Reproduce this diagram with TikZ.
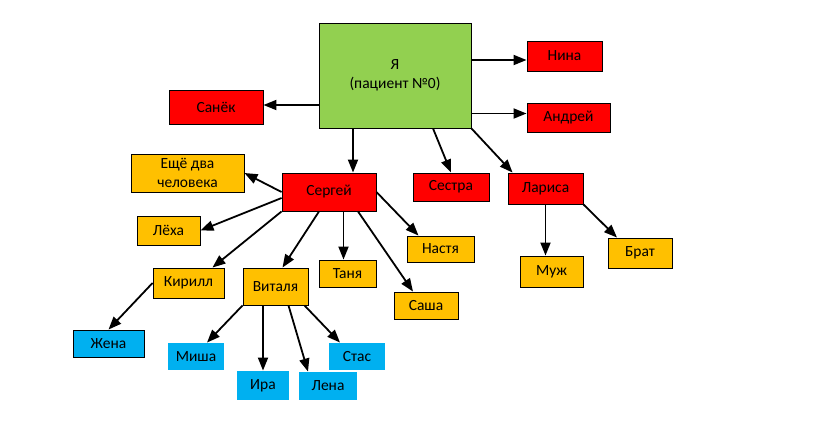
\documentclass[tikz,border=0pt]{standalone}
\usepackage{fontspec}
\setmainfont{Carlito}
\usepackage{tikz}
\usetikzlibrary{arrows.meta}
\definecolor{boxgreen}{HTML}{92D050}
\definecolor{boxred}{HTML}{FF0000}
\definecolor{boxorange}{HTML}{FFC000}
\definecolor{boxblue}{HTML}{00B0F0}
\begin{document}
\begin{tikzpicture}[x=1pt,y=-1pt,
             box/.style={draw=black, line width=0.9pt, inner sep=0pt, align=center,
               font=\fontsize{15.5}{19}\selectfont},
             me/.style={box, fill=boxgreen},
             kin/.style={box, fill=boxred},
             child/.style={box, fill=boxorange},
             grand/.style={box, fill=boxblue},
             arr/.style={-{Triangle[length=13pt,width=10pt]}, line width=1.8pt}]
             \useasboundingbox[fill=white] (0,0) rectangle (830,445);
             \node[me, minimum width=152pt, minimum height=105pt] (ya) at (395,75.5) {Я\\(пациент №0)};
             \node[kin, minimum width=75pt, minimum height=30pt] (nina) at (564.5,56) {Нина};
             \node[kin, minimum width=83pt, minimum height=29pt] (andrey) at (568.5,117.5) {Андрей};
             \node[kin, minimum width=94pt, minimum height=34pt] (sanek) at (216,107) {Санёк};
             \node[kin, minimum width=94pt, minimum height=38pt] (serg) at (329,192) {Сергей};
             \node[kin, minimum width=76pt, minimum height=28pt] (sestra) at (451,187) {Сестра};
             \node[kin, minimum width=75pt, minimum height=31pt] (larisa) at (545.5,188.5) {Лариса};
             \node[child, minimum width=113pt, minimum height=38pt] (eshche) at (187.5,173) {Ещё два\\человека};
             \node[child, minimum width=63pt, minimum height=29pt] (lyokha) at (168.5,230.5) {Лёха};
             \node[child, minimum width=71pt, minimum height=30pt] (kirill) at (188.5,283) {Кирилл};
             \node[child, minimum width=65pt, minimum height=37pt] (vitalya) at (275.5,286.5) {Виталя};
             \node[child, minimum width=57pt, minimum height=27pt] (tanya) at (347.5,273.5) {Таня};
             \node[child, minimum width=67pt, minimum height=26pt] (nastya) at (440.5,249) {Настя};
             \node[child, minimum width=64pt, minimum height=27pt] (sasha) at (426,305.5) {Саша};
             \node[child, minimum width=63pt, minimum height=31pt] (muzh) at (551.5,271.5) {Муж};
             \node[child, minimum width=64pt, minimum height=30pt] (brat) at (640,253) {Брат};
             \node[grand, minimum width=71pt, minimum height=27pt] (zhena) at (108.5,343.5) {Жена};
             \node[grand, draw=none, minimum width=56pt, minimum height=27pt] (misha) at (196,356.5) {Миша};
             \node[grand, draw=none, minimum width=52pt, minimum height=29pt] (ira) at (263,385.5) {Ира};
             \node[grand, draw=none, minimum width=58pt, minimum height=28pt] (lena) at (328,386) {Лена};
             \node[grand, draw=none, minimum width=56pt, minimum height=27pt] (stas) at (357,356.5) {Стас};
             \draw[arr] ([yshift=-4pt]ya.east |- nina.west) -- ([yshift=-4pt]nina.west);
             \draw[arr] ([yshift=4pt]ya.east |- andrey.west) -- ([yshift=4pt]andrey.west);
             \draw[arr] ([yshift=2pt]ya.west |- sanek.east) -- ([yshift=2pt]sanek.east);
             \draw[arr] ([xshift=24pt]serg.north |- ya.south) -- ([xshift=24pt]serg.north);
             \draw[arr] ([xshift=38pt]ya.south) -- (sestra.north);
             \draw[arr] (ya.south east) -- ([xshift=5pt]larisa.north west);
             \draw[arr] (serg.west) -- (eshche.east);
             \draw[arr] ([yshift=-6pt]serg.west) -- (lyokha.east);
             \draw[arr] (serg.south west) -- ([xshift=-12pt]kirill.north east);
             \draw[arr] ([xshift=-10pt]serg.south) -- ([xshift=7pt]vitalya.north);
             \draw[arr] ([xshift=-4pt]tanya.north |- serg.south) -- ([xshift=-4pt]tanya.north);
             \draw[arr] ([xshift=29pt]serg.south) -- ([xshift=-13pt]sasha.north);
             \draw[arr] (serg.east) -- ([xshift=-22pt]nastya.north);
             \draw[arr] (kirill.west) -- (zhena.north);
             \draw[arr] (vitalya.south west) -- ([xshift=11pt]misha.north);
             \draw[arr] (ira.north |- vitalya.south) -- (ira.north);
             \draw[arr] ([xshift=13pt]vitalya.south) -- ([xshift=-20pt]lena.north);
             \draw[arr] ([xshift=29pt]vitalya.south) -- ([xshift=-17pt]stas.north);
             \draw[arr] (larisa.south) -- (larisa.south |- muzh.north);
             \draw[arr] (larisa.south east) -- ([xshift=-23pt]brat.north);
            \end{tikzpicture}
\end{document}
